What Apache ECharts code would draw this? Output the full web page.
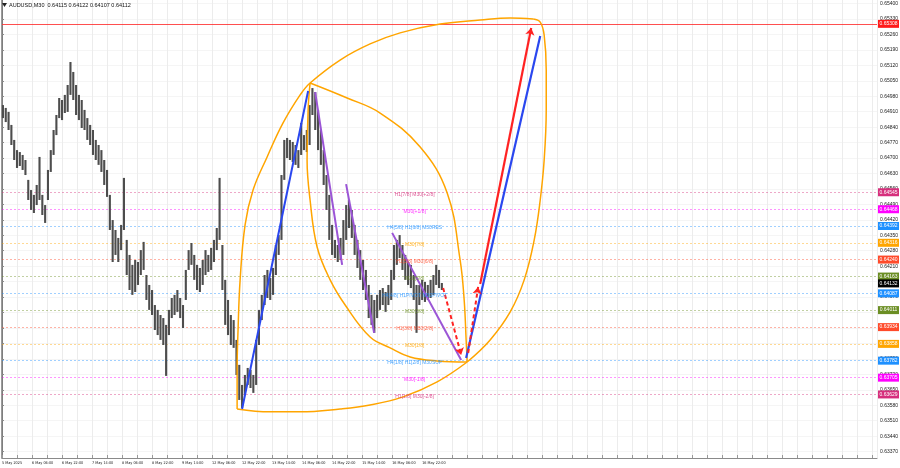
<!DOCTYPE html>
<html><head><meta charset="utf-8">
<script src="https://cdn.jsdelivr.net/npm/echarts@6/dist/echarts.min.js"></script>
<style>html,body{margin:0;padding:0;background:#fff}#c{width:900px;height:468px}</style>
</head><body><div id="c"></div>
<script>
// ---------- data ----------
const chartTitle = 'AUDUSD,M30  0.64115 0.64122 0.64107 0.64112';
const timeLabels = ['5 May 2025','6 May 06:00','6 May 22:00','7 May 14:00','8 May 06:00','8 May 22:00','9 May 14:00','12 May 06:00','12 May 22:00','13 May 14:00','14 May 06:00','14 May 22:00','15 May 14:00','16 May 06:00','16 May 22:00'];
const barsPerLabel = 32;
const yTickLabels = ['0.65400','0.65330','0.65260','0.65190','0.65120','0.65050','0.64980','0.64910','0.64840','0.64770','0.64700','0.64630','0.64560','0.64490','0.64420','0.64350','0.64280','0.64210','0.64140','0.64070','0.64000','0.63930','0.63860','0.63790','0.63720','0.63650','0.63580','0.63510','0.63440','0.63370'];
const barsPerCandle = 3;
const candleHigh = [0.64940,0.64927,0.64909,0.64850,0.64782,0.64736,0.64727,0.64714,0.64691,0.64601,
0.64555,0.64533,0.64578,0.64705,0.64533,0.64487,0.64646,0.64736,0.64827,0.64895,
0.64972,0.64963,0.64986,0.65031,0.65135,0.65090,0.65031,0.64986,0.64963,0.64918,
0.64881,0.64850,0.64827,0.64782,0.64759,0.64736,0.64691,0.64646,0.64533,0.64419,
0.64374,0.64338,0.64397,0.64610,0.64329,0.64261,0.64216,0.64238,0.64229,0.64283,
0.64320,0.64170,0.64125,0.64102,0.64034,0.64012,0.63989,0.63975,0.63944,0.64012,
0.64066,0.64080,0.64102,0.64066,0.64034,0.64193,0.64283,0.64315,0.64261,0.64216,
0.64202,0.64238,0.64283,0.64261,0.64293,0.64329,0.64383,0.64610,0.64306,0.64148,
0.64057,0.63989,0.63966,0.63876,0.63763,0.63672,0.63717,0.63749,0.63740,0.63717,
0.63876,0.64012,0.64080,0.64170,0.64193,0.64157,0.64202,0.64306,0.64351,0.64623,
0.64782,0.64791,0.64782,0.64773,0.64759,0.64736,0.64859,0.64804,0.64827,0.64940,
0.65017,0.64999,0.64918,0.64827,0.64736,0.64623,0.64533,0.64397,0.64329,0.64306,
0.64338,0.64419,0.64487,0.64510,0.64465,0.64397,0.64329,0.64283,0.64238,0.64193,
0.64125,0.64080,0.64057,0.64080,0.64102,0.64111,0.64093,0.64125,0.64193,0.64306,
0.64329,0.64351,0.64306,0.64261,0.64229,0.64216,0.64170,0.64125,0.64125,0.64148,
0.64139,0.64125,0.64148,0.64170,0.64216,0.64193,0.64134];
const candleLow = [0.64881,0.64863,0.64827,0.64759,0.64691,0.64655,0.64664,0.64646,0.64623,0.64510,
0.64465,0.64451,0.64487,0.64510,0.64442,0.64406,0.64510,0.64637,0.64714,0.64804,
0.64881,0.64872,0.64904,0.64909,0.64986,0.64963,0.64895,0.64872,0.64836,0.64827,
0.64782,0.64759,0.64714,0.64691,0.64669,0.64637,0.64578,0.64524,0.64374,0.64229,
0.64261,0.64229,0.64283,0.64374,0.64170,0.64102,0.64080,0.64093,0.64125,0.64170,
0.64193,0.64057,0.64012,0.63989,0.63921,0.63898,0.63876,0.63853,0.63713,0.63898,
0.63975,0.63989,0.64003,0.63975,0.63930,0.64057,0.64193,0.64216,0.64148,0.64102,
0.64093,0.64125,0.64170,0.64184,0.64193,0.64229,0.64283,0.64329,0.64102,0.63944,
0.63898,0.63853,0.63840,0.63717,0.63604,0.63568,0.63627,0.63672,0.63658,0.63636,
0.63672,0.63853,0.63966,0.64034,0.64066,0.64057,0.64080,0.64170,0.64261,0.64329,
0.64601,0.64700,0.64691,0.64682,0.64669,0.64655,0.64714,0.64736,0.64727,0.64759,
0.64895,0.64827,0.64736,0.64669,0.64578,0.64465,0.64329,0.64261,0.64247,0.64229,
0.64238,0.64261,0.64329,0.64383,0.64338,0.64261,0.64202,0.64148,0.64102,0.64057,
0.63975,0.63944,0.63908,0.63975,0.64012,0.64034,0.64003,0.64034,0.64057,0.64148,
0.64216,0.64247,0.64193,0.64148,0.64125,0.64111,0.64057,0.63908,0.64034,0.64057,
0.64048,0.64057,0.64066,0.64080,0.64125,0.64111,0.64102];

const levelValues = [0.64545,0.64468,0.64392,0.64316,0.64240,0.64163,0.64087,0.64011,0.63934,0.63858,0.63782,0.63705,0.63629];
const levelNames = ['H1[7/8] M30[+2/8]','M30[+1/8]','H4[5/8] H1[6/8] M30RES','M30[7/8]','H1[5/8] M30[6/8]','M30[5/8]','H4[4/8] H1PIVOT M30PIVOT','M30[3/8]','H1[3/8] M30[2/8]','M30[1/8]','H4[1/8] H1[2/8] M30SUP','M30[-1/8]','H1[1/8] M30[-2/8]'];
const levelColors = ['#d62f7c','#ff00ff','#1e90ff','#ffa500','#ff4a2a','#6b8e23','#1e90ff','#6b8e23','#ff4a2a','#ffa500','#1e90ff','#ff00ff','#d62f7c'];
const levelLabelBar = 440;
const askPrice = 0.65308;
const bidPrice = 0.64132;

// drawing objects: [bar, price]
const orangeOuterLeft = [[250.7,0.63563],[250.7,0.63740],[251.7,0.63921],[253.9,0.64148],[259.2,0.64397],[267.7,0.64555],[282.7,0.64705],[299.7,0.64859],[317.9,0.64986],[328.5,0.65040],[360.5,0.65144],[392.5,0.65217],[424.5,0.65267],[467.2,0.65307],[509.9,0.65325],[541.9,0.65334],[566.4,0.65330]];
const orangeOuterRight = [[566.4,0.65330],[573.9,0.65316],[578.1,0.65257],[580.3,0.65099],[580.3,0.64918],[578.1,0.64691],[573.9,0.64510],[567.5,0.64329],[556.8,0.64148],[541.9,0.64003],[520.5,0.63876],[496.0,0.63776]];
const orangeOuterBottom = [[250.7,0.63563],[285.9,0.63550],[317.9,0.63550],[360.5,0.63563],[392.5,0.63581],[427.7,0.63618],[464.0,0.63686],[496.0,0.63776]];
const orangeInnerLeft = [[328.5,0.65040],[326.4,0.64918],[325.3,0.64691],[328.5,0.64510],[336.0,0.64297],[349.9,0.64148],[365.9,0.64034],[392.5,0.63889],[413.9,0.63840],[435.2,0.63799],[464.0,0.63781],[496.0,0.63776]];
const orangeInnerRight = [[328.5,0.65040],[368.0,0.64972],[403.2,0.64904],[445.9,0.64750],[474.7,0.64542],[488.5,0.64238],[492.8,0.64057],[494.9,0.63876],[496.0,0.63776]];
const blueUp = [[256.0,0.63563],[326.4,0.65004]];
const blueProjection = [[494.9,0.63794],[573.9,0.65253]];
const purpleDown1 = [[333.9,0.64999],[362.7,0.64216]];
const purpleDown2 = [[366.9,0.64582],[396.8,0.63908]];
const purpleDown3 = [[416.0,0.64361],[489.6,0.63785]];
const redProjection = [[509.9,0.64129],[564.3,0.65289]];
const redDashDown = [[470.4,0.64111],[489.6,0.63808]];
const redDashUp = [[497.1,0.63817],[507.7,0.64116]];

// ---------- chart ----------
const X_MIN = 0, X_MAX = 933;
const yTicks = yTickLabels.map(Number);
const fontFam = '"Liberation Sans", "DejaVu Sans", sans-serif';
const narrowFam = '"Liberation Sans Narrow", "DejaVu Sans Condensed", "Liberation Sans", sans-serif';
const chart = echarts.init(document.getElementById('c'), null, {renderer: 'canvas'});

function curve(data, color, width, smooth) {
  return {type: 'line', data: data, smooth: smooth, symbol: 'none', z: 4, silent: true, animation: false,
    lineStyle: {color: color, width: width}};
}
function seg(coords, color, width, type, arrow) {
  return {type: 'lines', coordinateSystem: 'cartesian2d', z: 5, silent: true, animation: false,
    symbol: arrow ? ['none', 'arrow'] : ['none', 'none'], symbolSize: 7,
    lineStyle: {color: color, width: width, type: type, opacity: 1},
    data: [{coords: coords}]};
}
function hlines(values, styleFn, z) {
  return {type: 'lines', coordinateSystem: 'cartesian2d', z: z, silent: true, animation: false,
    symbol: ['none', 'none'],
    data: values.map((v, i) => ({coords: [[X_MIN, v], [X_MAX, v]], lineStyle: styleFn(i)}))};
}

const tagValues = levelValues.concat([askPrice, bidPrice]);
const tagColors = levelColors.concat(['#ff1a1a', '#000000']);

const option = {
  animation: false,
  backgroundColor: '#ffffff',
  textStyle: {fontFamily: fontFam},
  grid: {left: 2, right: 23, top: 0, bottom: 10, outerBoundsMode: 'none'},
  xAxis: {
    type: 'value', min: X_MIN, max: X_MAX, interval: 16,
    axisLine: {show: true, lineStyle: {color: '#8a8a8a', width: 1}},
    axisTick: {show: true, inside: true, length: 3, lineStyle: {color: '#9a9a9a'}},
    splitLine: {show: true, lineStyle: {color: '#ececec', width: 1}},
    axisLabel: {fontSize: 3.8, color: '#222', align: 'left', margin: 3, showMaxLabel: false, showMinLabel: true, fontFamily: narrowFam,
      formatter: function (v) {
        if (v % barsPerLabel === 0 && v / barsPerLabel < timeLabels.length) return timeLabels[v / barsPerLabel];
        return '';
      }}
  },
  yAxis: [{
    type: 'value', position: 'right', min: 0.63341, max: 0.65416, scale: true,
    axisLine: {show: true, lineStyle: {color: '#8a8a8a', width: 1}},
    axisTick: {show: true, length: 2, customValues: yTicks, lineStyle: {color: '#8a8a8a'}},
    axisLabel: {customValues: yTicks, fontSize: 5, color: '#222', margin: 3, fontFamily: fontFam,
      formatter: function (v) { return v.toFixed(5); }},
    splitLine: {show: false}
  }, {
    type: 'value', position: 'left', min: 0.63341, max: 0.65416, scale: true,
    axisLine: {show: true, lineStyle: {color: '#7a7a7a', width: 1.5}},
    axisTick: {show: false}, axisLabel: {show: false}, splitLine: {show: false}
  }],
  graphic: [
    {type: 'polygon', left: 2, top: 3, z: 20, shape: {points: [[0, 0], [5, 0], [2.5, 4]]}, style: {fill: '#222'}},
    {type: 'text', left: 9, top: 2, z: 20, style: {text: chartTitle, fontSize: 5.5, fill: '#111', fontFamily: fontFam}}
  ],
  series: [
    hlines(yTicks, () => ({color: '#ececec', width: 1, type: 'solid'}), 0),
    hlines(levelValues, i => ({color: levelColors[i], width: 1, type: [2, 2], opacity: 0.42}), 1),
    hlines([askPrice], () => ({color: '#ff3030', width: 1, type: 'solid', opacity: 0.85}), 1),
    // price bars
    {type: 'custom', z: 2, silent: true, animation: false,
      data: candleHigh.map((h, i) => [i * barsPerCandle + 1, h, candleLow[i]]),
      encode: {x: 0, y: [1, 2]},
      renderItem: function (params, api) {
        const x = api.value(0);
        const top = api.coord([x, api.value(1)]);
        const bot = api.coord([x, api.value(2)]);
        const w = api.size([barsPerCandle, 0])[0] * 0.75;
        return {type: 'rect', shape: {x: top[0] - w / 2, y: top[1], width: w, height: Math.max(1, bot[1] - top[1])},
          style: {fill: '#4d4d4d'}};
      }},
    // level labels inside chart
    {type: 'scatter', z: 6, silent: true, symbolSize: 0, animation: false,
      data: levelValues.map((v, i) => ({value: [levelLabelBar, v],
        label: {show: true, position: 'inside', offset: [0, 2], formatter: levelNames[i], color: levelColors[i], fontSize: 5, fontFamily: fontFam}}))},
    curve(orangeOuterLeft, '#ffa500', 1.5, 0.4),
    curve(orangeOuterRight, '#ffa500', 1.5, 0.4),
    curve(orangeOuterBottom, '#ffa500', 1.5, 0.4),
    curve(orangeInnerLeft, '#ffa500', 1.5, 0.4),
    curve(orangeInnerRight, '#ffa500', 1.5, 0.4),
    seg(blueUp, '#2a47ef', 2, 'solid', false),
    seg(blueProjection, '#2a47ef', 2.2, 'solid', false),
    seg(purpleDown1, '#9b55d6', 2, 'solid', false),
    seg(purpleDown2, '#9b55d6', 2, 'solid', false),
    seg(purpleDown3, '#9b55d6', 2, 'solid', false),
    seg(redProjection, '#ff2222', 2.2, 'solid', true),
    seg(redDashDown, '#ff2222', 2, [4, 3], true),
    seg(redDashUp, '#ff2222', 2, [4, 3], true),
    // price tags on the axis
    {type: 'custom', z: 20, silent: true, animation: false, clip: false,
      data: tagValues.map((v, i) => [X_MAX, v, i]),
      encode: {x: 0, y: 1},
      renderItem: function (params, api) {
        const p = api.coord([api.value(0), api.value(1)]);
        const i = api.value(2);
        return {type: 'group', children: [
          {type: 'rect', shape: {x: p[0] + 1, y: p[1] - 4, width: 21, height: 8}, style: {fill: tagColors[i]}},
          {type: 'text', x: p[0] + 11.5, y: p[1], style: {text: tagValues[i].toFixed(5), fill: '#fff', fontSize: 5, fontFamily: fontFam, align: 'center', verticalAlign: 'middle'}}
        ]};
      }}
  ]
};
chart.setOption(option);
</script></body></html>
